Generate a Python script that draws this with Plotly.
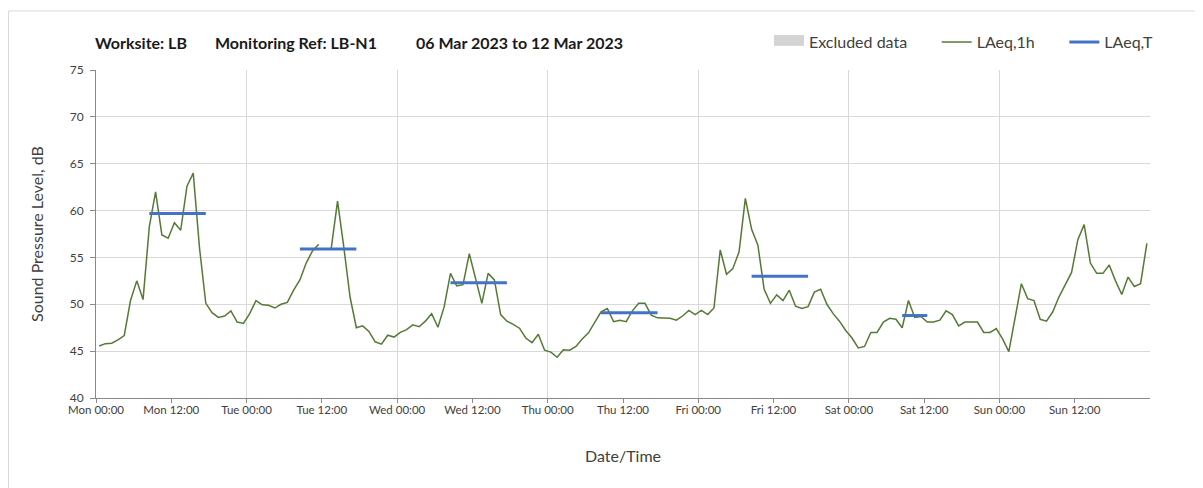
import pandas as pd
import plotly.graph_objects as go

# ---------------- data ----------------
start_time = "2023-03-06 00:00"          # first hourly period (Mon 00:00)

laeq_mon = [45.55, 45.8, 45.85, 46.2, 46.65, 50.4, 52.5, 50.5, 58.3, 62.0, 57.4, 57.05,
            58.7, 57.9, 62.6, 64.0, 56.0, 50.1, 49.1, 48.6, 48.75, 49.3, 48.1, 47.95]
laeq_tue = [49.0, 50.4, 49.95, 49.9, 49.6, 50.0, 50.2, 51.5, 52.6, 54.4, 55.7, 56.4,
            None, 56.0, 61.0, 56.1, 50.75, 47.5, 47.7, 47.1, 46.0, 45.75, 46.7, 46.5]
laeq_wed = [47.0, 47.3, 47.8, 47.6, 48.2, 49.0, 47.55, 49.75, 53.3, 51.95, 52.1, 55.4,
            52.7, 50.1, 53.3, 52.6, 48.9, 48.2, 47.85, 47.45, 46.4, 45.9, 46.8, 45.1]
laeq_thu = [44.9, 44.35, 45.15, 45.1, 45.5, 46.3, 46.95, 48.15, 49.2, 49.55, 48.15, 48.3,
            48.15, 49.3, 50.1, 50.1, 48.85, 48.55, 48.5, 48.5, 48.3, 48.75, 49.35, 48.9]
laeq_fri = [49.35, 48.9, 49.6, 55.8, 53.2, 53.8, 55.6, 61.3, 58.0, 56.3, 51.6, 50.1,
            51.0, 50.4, 51.5, 49.8, 49.55, 49.75, 51.3, 51.6, 50.0, 49.0, 48.2, 47.2]
laeq_sat = [46.4, 45.35, 45.5, 47.0, 47.0, 48.1, 48.5, 48.4, 47.5, 50.4, 48.6, 48.7,
            48.1, 48.1, 48.3, 49.3, 48.9, 47.7, 48.1, 48.1, 48.1, 47.0, 47.0, 47.4]
laeq_sun = [46.3, 44.95, 48.5, 52.2, 50.6, 50.4, 48.4, 48.2, 49.2, 50.8, 52.1, 53.4,
            56.9, 58.5, 54.4, 53.3, 53.3, 54.2, 52.5, 51.05, 52.9, 51.9, 52.2, 56.5]

period_start = ["2023-03-06 08:00", "2023-03-07 08:00", "2023-03-08 08:00",
                "2023-03-09 08:00", "2023-03-10 08:00", "2023-03-11 08:00"]
period_end = ["2023-03-06 18:00", "2023-03-07 18:00", "2023-03-08 18:00",
              "2023-03-09 18:00", "2023-03-10 18:00", "2023-03-11 13:00"]
laeq_T = [59.7, 55.9, 52.3, 49.1, 53.0, 48.8]

excluded_start = []   # no excluded periods in this week
excluded_end = []

y_ticks = [40, 45, 50, 55, 60, 65, 70, 75]
title_parts = ["Worksite: LB", "Monitoring Ref: LB-N1", "06 Mar 2023 to 12 Mar 2023"]

# ---------------- build ----------------
laeq_1h = laeq_mon + laeq_tue + laeq_wed + laeq_thu + laeq_fri + laeq_sat + laeq_sun
half = pd.Timedelta(minutes=30)
hour_starts = pd.date_range(start_time, periods=len(laeq_1h), freq="h")
x_1h = hour_starts + half          # each hourly value plotted at the middle of its hour

tx, ty = [], []
for s, e, v in zip(period_start, period_end, laeq_T):
    tx += [pd.Timestamp(s) + half, pd.Timestamp(e) - half, None]
    ty += [v, v, None]

ex_x, ex_y = [], []
for s, e in zip(excluded_start, excluded_end):
    ex_x += [s, s, e, e, None]
    ex_y += [40, 75, 75, 40, None]
if not ex_x:
    ex_x, ex_y = [None], [None]

x0 = pd.Timestamp(start_time)
x_range = [x0, x0 + pd.Timedelta(days=7)]
x_ticks = pd.date_range(x0, periods=14, freq="12h")

FONT = "Lato"
TXT = "#404040"
GRID = "#d9d9d9"
AXIS = "#898989"
PAD = "\u00a0" * 6

fig = go.Figure()

fig.add_trace(go.Scatter(
    x=ex_x, y=ex_y, mode="lines", name="Excluded data" + PAD,
    fill="toself", fillcolor="#d9d9d9",
    line=dict(color="#d4d4d4", width=10), hoverinfo="skip"))

fig.add_trace(go.Scatter(
    x=x_1h, y=laeq_1h, mode="lines", name="LAeq,1h" + PAD,
    line=dict(color="#557a34", width=1.5), connectgaps=False))

fig.add_trace(go.Scatter(
    x=tx, y=ty, mode="lines", name="LAeq,T",
    line=dict(color="#4472c4", width=3)))

# helper trace on overlay axis (daily grid lines)
fig.add_trace(go.Scatter(x=x_range, y=[None, None], xaxis="x2", mode="lines",
                         showlegend=False, hoverinfo="skip"))

fig.update_layout(
    width=1195, height=480,
    margin=dict(l=88, r=53, t=62, b=90, autoexpand=False),
    paper_bgcolor="white", plot_bgcolor="white",
    font=dict(family=FONT, color=TXT, size=12),
    showlegend=True,
    legend=dict(orientation="h", x=0.6385, y=1.085, xanchor="left", yanchor="middle",
                font=dict(family=FONT, size=16, color=TXT), itemwidth=30,
                bgcolor="rgba(0,0,0,0)"),
    xaxis=dict(type="date", range=x_range, tickvals=x_ticks,
               tickformat="%a %H:%M", showgrid=False, zeroline=False, automargin=False,
               showline=True, linecolor=AXIS, linewidth=1,
               ticks="outside", ticklen=4, tickcolor=AXIS, ticklabelstandoff=-3,
               tickfont=dict(family=FONT, size=11.5, color=TXT),
               title=dict(text="Date/Time", font=dict(family=FONT, size=16, color=TXT), standoff=36)),
    xaxis2=dict(type="date", range=x_range, overlaying="x", tick0=start_time,
                dtick=24 * 3600 * 1000, showgrid=True, gridcolor=GRID, gridwidth=1,
                showticklabels=False, ticks="", showline=False, zeroline=False, automargin=False),
    yaxis=dict(range=[40, 75], tickvals=y_ticks, showgrid=True, gridcolor=GRID, gridwidth=1,
               zeroline=False, showline=True, linecolor=AXIS, linewidth=1, automargin=False,
               ticks="outside", ticklen=5, tickcolor=AXIS, ticklabelstandoff=4,
               tickfont=dict(family=FONT, size=12, color=TXT),
               title=dict(text="Sound Pressure Level, dB", font=dict(family=FONT, size=16, color=TXT), standoff=22)),
)

# title pieces
title_x = [-0.003, 0.111, 0.302]
for t, xp in zip(title_parts, title_x):
    fig.add_annotation(text=f"<b>{t}</b>", x=xp, y=1.085, xref="paper", yref="paper",
                       xanchor="left", yanchor="middle", showarrow=False,
                       font=dict(family=FONT, size=16, color="#1a1a1a"))

# outer chart frame
fig.add_shape(type="rect", xref="paper", yref="paper", x0=-0.0830, x1=1.2, y0=-0.5, y1=1.18,
              line=dict(color="#d9d9d9", width=1), fillcolor="rgba(0,0,0,0)", layer="below")

fig.write_html("out.html")
